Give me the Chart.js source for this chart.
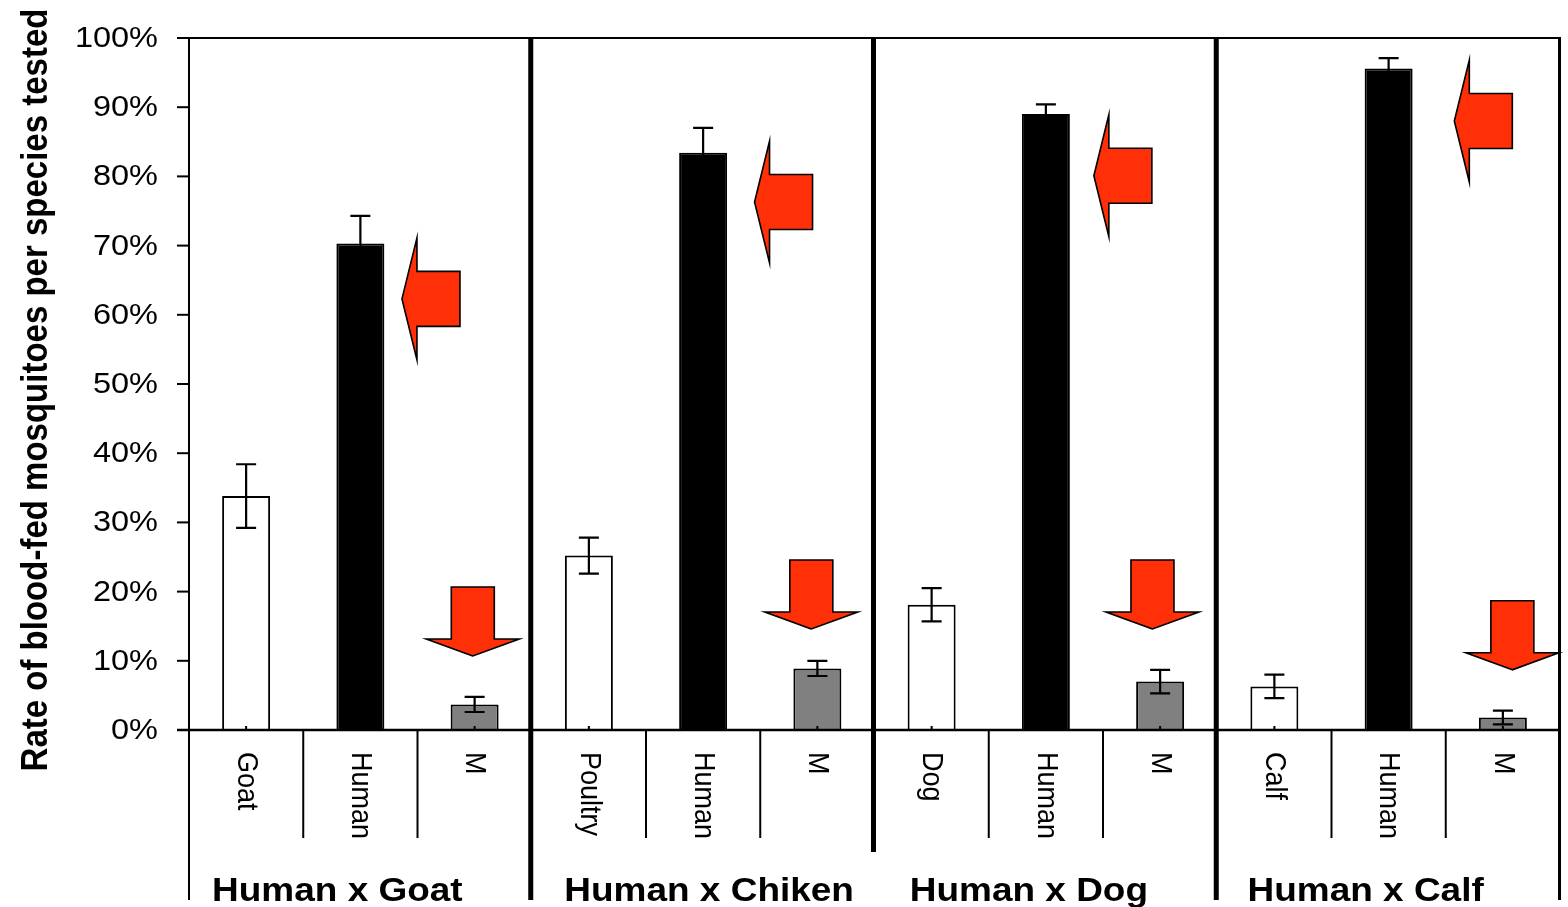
<!DOCTYPE html>
<html>
<head>
<meta charset="utf-8">
<script src="https://cdn.jsdelivr.net/npm/chart.js@4"></script>
<style>
  html, body { margin: 0; padding: 0; background: #ffffff; }
  #wrap { width: 1568px; height: 907px; }
</style>
</head>
<body>
<div id="wrap"><canvas id="c" width="1568" height="907"></canvas></div>
<script>
// ---- data ----
const categories = ['Goat', 'Human', 'M', 'Poultry', 'Human', 'M', 'Dog', 'Human', 'M', 'Calf', 'Human', 'M'];
const groupLabels = ['Human x Goat', 'Human x Chiken', 'Human x Dog', 'Human x Calf'];
const rates = [33.8, 70.3, 3.7, 25.2, 83.4, 8.9, 18.1, 89.0, 7.0, 6.3, 95.6, 1.8];
const rateErrors = [4.6, 4.0, 1.1, 2.6, 3.6, 1.1, 2.4, 1.4, 1.7, 1.7, 1.5, 1.0];
const yTickLabels = ['0%', '10%', '20%', '30%', '40%', '50%', '60%', '70%', '80%', '90%', '100%'];
const yTitle = 'Rate of blood-fed mosquitoes per species tested';

// annotation arrows (category index, offset in category widths, value where the tip points)
const leftArrowCats = [1, 4, 7, 10];
const leftArrowOffsets = [0.364, 0.45, 0.42, 0.575];
const leftArrowTips = [62.3, 76.3, 80.1, 88.0];
const downArrowCats = [2, 5, 8, 11];
const downArrowOffsets = [-0.016, -0.053, -0.067, 0.083];
const downArrowTips = [10.7, 14.6, 14.6, 8.7];

const kindColors = ['#ffffff', '#000000', '#808080'];
const barColors = categories.map((_, i) => kindColors[i % 3]);
const RED = '#ff3008';
const STRETCH = 1.12; // the reference's text is horizontally widened

const decor = {
  id: 'decor',
  afterDraw(chart) {
    const { ctx, chartArea: a, scales: { x, y } } = chart;
    const cw = x.getPixelForValue(1) - x.getPixelForValue(0);
    const y0 = y.getPixelForValue(0);
    ctx.save();
    ctx.lineCap = 'butt';

    // small inner ticks at category centres
    ctx.strokeStyle = '#000';
    ctx.lineWidth = 2;
    categories.forEach((_, i) => {
      const cx = x.getPixelForValue(i);
      ctx.beginPath(); ctx.moveTo(cx, y0); ctx.lineTo(cx, y0 - 4); ctx.stroke();
    });

    // error bars
    ctx.lineWidth = 2.2;
    ctx.strokeStyle = '#000';
    rates.forEach((v, i) => {
      const cx = x.getPixelForValue(i);
      const hi = y.getPixelForValue(v + rateErrors[i]);
      const lo = y.getPixelForValue(v - rateErrors[i]);
      const cap = 10;
      ctx.beginPath();
      ctx.moveTo(cx, hi); ctx.lineTo(cx, lo);
      ctx.moveTo(cx - cap, hi); ctx.lineTo(cx + cap, hi);
      ctx.moveTo(cx - cap, lo); ctx.lineTo(cx + cap, lo);
      ctx.stroke();
    });

    // frame: top border, left axis, right border, zero line
    const bottomExt = 900;
    ctx.lineWidth = 2;
    ctx.beginPath();
    ctx.moveTo(a.left, a.top); ctx.lineTo(a.right, a.top);
    ctx.moveTo(a.left, a.top); ctx.lineTo(a.left, bottomExt);
    ctx.stroke();
    ctx.lineWidth = 3;
    ctx.beginPath();
    ctx.moveTo(a.right - 0.5, a.top - 1); ctx.lineTo(a.right - 0.5, bottomExt);
    ctx.stroke();
    ctx.lineWidth = 2.5;
    ctx.beginPath();
    ctx.moveTo(a.left - 12, y0); ctx.lineTo(a.right, y0);
    ctx.stroke();

    // y ticks and labels
    ctx.lineWidth = 2;
    ctx.fillStyle = '#000';
    ctx.font = '29px "Liberation Sans", Arial, sans-serif';
    ctx.textAlign = 'right';
    ctx.textBaseline = 'middle';
    y.ticks.forEach((t, i) => {
      const py = y.getPixelForValue(t.value);
      ctx.beginPath(); ctx.moveTo(a.left - 12, py); ctx.lineTo(a.left, py); ctx.stroke();
      ctx.save();
      ctx.translate(a.left - 31, py + 1);
      ctx.scale(STRETCH, 1);
      ctx.fillText(yTickLabels[i], 0, 0);
      ctx.restore();
    });

    // category dividers
    ctx.lineWidth = 2;
    for (let i = 1; i < categories.length; i++) {
      if (i % 3 === 0) continue;
      const bx = (x.getPixelForValue(i - 1) + x.getPixelForValue(i)) / 2;
      ctx.beginPath(); ctx.moveTo(bx, y0); ctx.lineTo(bx, 838); ctx.stroke();
    }
    // group separators (thick)
    ctx.lineWidth = 5;
    const sepEnds = [900, 852, 900];
    [3, 6, 9].forEach((i, k) => {
      const bx = (x.getPixelForValue(i - 1) + x.getPixelForValue(i)) / 2 - 1;
      ctx.beginPath(); ctx.moveTo(bx, a.top - 1); ctx.lineTo(bx, sepEnds[k]); ctx.stroke();
    });

    // category labels rotated clockwise
    ctx.font = '27px "Liberation Sans", Arial, sans-serif';
    ctx.textAlign = 'left';
    ctx.textBaseline = 'middle';
    categories.forEach((lab, i) => {
      const cx = x.getPixelForValue(i);
      ctx.save();
      ctx.translate(cx, 752);
      ctx.rotate(Math.PI / 2);
      ctx.scale(1, STRETCH);
      ctx.fillText(lab, 0, 0);
      ctx.restore();
    });

    // group labels
    ctx.font = 'bold 33px "Liberation Sans", Arial, sans-serif';
    ctx.textAlign = 'center';
    ctx.textBaseline = 'alphabetic';
    const gShift = [-23, 6, -17, -23];
    groupLabels.forEach((g, k) => {
      const gx = (x.getPixelForValue(k * 3) + x.getPixelForValue(k * 3 + 2)) / 2 + gShift[k];
      ctx.save();
      ctx.translate(gx, 901);
      ctx.scale(STRETCH, 1);
      ctx.fillText(g, 0, 0);
      ctx.restore();
    });

    // y axis title
    ctx.save();
    ctx.font = 'bold 33px "Liberation Sans", Arial, sans-serif';
    ctx.textAlign = 'center';
    ctx.textBaseline = 'middle';
    ctx.translate(37, 390);
    ctx.rotate(-Math.PI / 2);
    ctx.scale(1, STRETCH);
    ctx.fillText(yTitle, 0, 0);
    ctx.restore();

    // red block arrows
    ctx.fillStyle = RED;
    ctx.strokeStyle = '#000';
    ctx.lineWidth = 1.6;
    ctx.lineJoin = 'miter';
    leftArrowCats.forEach((ci, k) => {
      const tx = x.getPixelForValue(ci) + leftArrowOffsets[k] * cw;
      const ty = y.getPixelForValue(leftArrowTips[k]);
      ctx.beginPath();
      ctx.moveTo(tx, ty);
      ctx.lineTo(tx + 15, ty - 61);
      ctx.lineTo(tx + 15, ty - 27.5);
      ctx.lineTo(tx + 58, ty - 27.5);
      ctx.lineTo(tx + 58, ty + 27.5);
      ctx.lineTo(tx + 15, ty + 27.5);
      ctx.lineTo(tx + 15, ty + 61);
      ctx.closePath();
      ctx.fill(); ctx.stroke();
    });
    downArrowCats.forEach((ci, k) => {
      const tx = x.getPixelForValue(ci) + downArrowOffsets[k] * cw;
      const ty = y.getPixelForValue(downArrowTips[k]);
      ctx.beginPath();
      ctx.moveTo(tx, ty);
      ctx.lineTo(tx - 46.5, ty - 17);
      ctx.lineTo(tx - 21.5, ty - 17);
      ctx.lineTo(tx - 21.5, ty - 69);
      ctx.lineTo(tx + 21.5, ty - 69);
      ctx.lineTo(tx + 21.5, ty - 17);
      ctx.lineTo(tx + 46.5, ty - 17);
      ctx.closePath();
      ctx.fill(); ctx.stroke();
    });
    ctx.restore();
  }
};

new Chart(document.getElementById('c'), {
  type: 'bar',
  data: {
    labels: categories,
    datasets: [{
      data: rates,
      backgroundColor: barColors,
      borderColor: '#000',
      borderWidth: 2,
      borderSkipped: 'bottom',
      categoryPercentage: 1,
      barPercentage: 0.42
    }]
  },
  options: {
    responsive: false,
    animation: false,
    devicePixelRatio: 1,
    layout: { padding: { left: 189, right: 8, top: 38, bottom: 177 } },
    plugins: { legend: { display: false }, tooltip: { enabled: false } },
    scales: {
      x: { display: false },
      y: { display: false, min: 0, max: 100, ticks: { stepSize: 10 } }
    }
  },
  plugins: [decor]
});
</script>
</body>
</html>
